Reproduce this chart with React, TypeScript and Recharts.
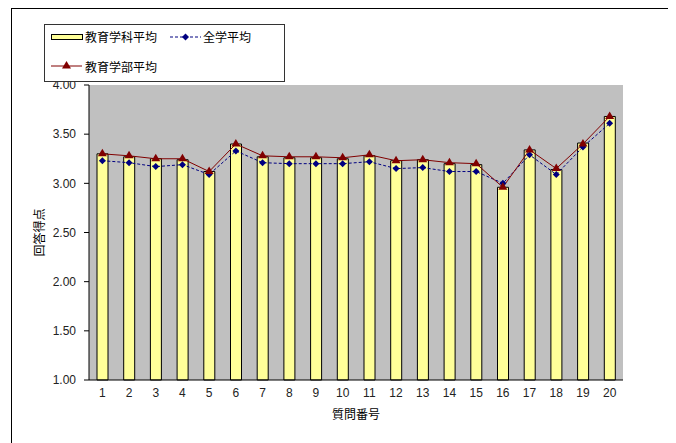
import { Bar, CartesianGrid, ComposedChart, Line, XAxis, YAxis } from "recharts";

// 質問番号 1..20
const questions = ["1", "2", "3", "4", "5", "6", "7", "8", "9", "10", "11", "12", "13", "14", "15", "16", "17", "18", "19", "20"];

// 教育学科平均 (bars)
const deptAvg = [3.3, 3.27, 3.25, 3.24, 3.12, 3.4, 3.27, 3.26, 3.26, 3.25, 3.28, 3.23, 3.24, 3.2, 3.19, 2.96, 3.34, 3.14, 3.41, 3.68];
// 全学平均 (dashed navy line)
const univAvg = [3.23, 3.21, 3.17, 3.19, 3.09, 3.33, 3.21, 3.2, 3.2, 3.2, 3.22, 3.15, 3.16, 3.12, 3.12, 3.0, 3.29, 3.09, 3.37, 3.61];
// 教育学部平均 (dark red line)
const facultyAvg = [3.3, 3.28, 3.25, 3.25, 3.12, 3.4, 3.28, 3.27, 3.27, 3.26, 3.29, 3.23, 3.24, 3.21, 3.2, 2.96, 3.34, 3.15, 3.4, 3.68];

const yTicks = [1, 1.5, 2, 2.5, 3, 3.5, 4];
// category boundaries for the small inside tick marks
const boundaryTicks = questions.slice(1).map((_, i) => i + 1.5);

const data = questions.map((q, i) => ({
  label: q,
  pos: i + 1,
  dept: deptAvg[i],
  univ: univAvg[i],
  faculty: facultyAvg[i],
}));

const NUM_FONT = "'Liberation Sans', Arial, sans-serif";
const JP_FONT = "'Noto Sans CJK JP', sans-serif";

const Diamond = ({ cx, cy }: any) => {
  if (cx == null || cy == null) return null;
  return <polygon points={`${cx},${cy - 3.5} ${cx + 3.5},${cy} ${cx},${cy + 3.5} ${cx - 3.5},${cy}`} fill="#000080" />;
};

const Triangle = ({ cx, cy }: any) => {
  if (cx == null || cy == null) return null;
  return <polygon points={`${cx},${cy - 5} ${cx + 4.5},${cy + 2.5} ${cx - 4.5},${cy + 2.5}`} fill="#800000" />;
};

function LegendBox() {
  const text = { fontFamily: JP_FONT, fontSize: 12, color: "#000", position: "absolute" as const, lineHeight: "14px" };
  return (
    <div style={{ position: "absolute", left: 36, top: 16, width: 239, height: 56, border: "1px solid #333", background: "#fff" }}>
      <svg width={239} height={56} style={{ position: "absolute", left: 0, top: 0 }}>
        <rect x={6.5} y={9.5} width={31} height={5} fill="#FFFF99" stroke="#000" />
        <line x1={125} y1={12} x2={156} y2={12} stroke="#000080" strokeDasharray="3 2" />
        <Diamond cx={140.5} cy={12} />
        <line x1={6} y1={41} x2={37} y2={41} stroke="#800000" />
        <Triangle cx={21.5} cy={41} />
      </svg>
      <span style={{ ...text, left: 40, top: 5 }}>教育学科平均</span>
      <span style={{ ...text, left: 158, top: 5 }}>全学平均</span>
      <span style={{ ...text, left: 40, top: 35 }}>教育学部平均</span>
    </div>
  );
}

export default function App() {
  return (
    <div style={{ position: "relative", width: 660, height: 435 }}>
      <div style={{ position: "absolute", left: 3, top: 0, width: 658, height: 445, border: "1px solid #000" }} />
      <ComposedChart
        width={660}
        height={435}
        data={data}
        margin={{ top: 77, right: 45, bottom: 24, left: 31 }}
        barCategoryGap={0}
      >
        <CartesianGrid horizontal={false} vertical={false} fill="#C0C0C0" xAxisId="cat" />
        {/* short tick marks pointing up into the plot at category boundaries */}
        <XAxis
          xAxisId="ticks"
          dataKey="pos"
          type="number"
          domain={[0.5, 20.5]}
          ticks={boundaryTicks}
          interval={0}
          height={1}
          mirror
          tick={false}
          tickSize={4}
          axisLine={{ stroke: "#000" }}
          tickLine={{ stroke: "#000" }}
        />
        <XAxis
          xAxisId="cat"
          dataKey="label"
          height={39}
          tickLine={false}
          tickSize={6}
          tickMargin={2}
          axisLine={false}
          tick={{ fontFamily: NUM_FONT, fontSize: 12, fill: "#222" }}
          interval={0}
          label={({ viewBox }: any) => (
            <text
              x={viewBox.x + viewBox.width / 2}
              y={405}
              textAnchor="middle"
              dominantBaseline="central"
              fontFamily={JP_FONT}
              fontSize={12}
              fill="#000"
            >
              質問番号
            </text>
          )}
        />
        <XAxis xAxisId="top" orientation="top" dataKey="label" height={0} tick={false} tickLine={false} axisLine={{ stroke: "#808080" }} />
        <YAxis
          domain={[1, 4]}
          ticks={yTicks}
          width={50}
          tickSize={5}
          tickMargin={8}
          interval={0}
          axisLine={{ stroke: "#000" }}
          tickLine={{ stroke: "#000" }}
          tickFormatter={(v: number) => v.toFixed(2)}
          tick={{ fontFamily: NUM_FONT, fontSize: 12, fill: "#222" }}
          label={({ viewBox }: any) => {
            const x = viewBox.x - 1;
            const y = viewBox.y + viewBox.height / 2;
            return (
              <text
                x={x}
                y={y}
                textAnchor="middle"
                dominantBaseline="central"
                transform={`rotate(-90, ${x}, ${y})`}
                fontFamily={JP_FONT}
                fontSize={12}
                fill="#000"
              >
                回答得点
              </text>
            );
          }}
        />
        <YAxis yAxisId="r" orientation="right" domain={[1, 4]} width={0} tick={false} tickLine={false} axisLine={{ stroke: "#808080" }} />
        <Bar xAxisId="cat" dataKey="dept" barSize={11} fill="#FFFF99" stroke="#000" strokeWidth={1} isAnimationActive={false} />
        <Line
          xAxisId="cat"
          dataKey="univ"
          stroke="#000080"
          strokeWidth={1}
          strokeDasharray="3 2"
          dot={<Diamond />}
          activeDot={false}
          isAnimationActive={false}
        />
        <Line
          xAxisId="cat"
          dataKey="faculty"
          stroke="#800000"
          strokeWidth={1}
          dot={<Triangle />}
          activeDot={false}
          isAnimationActive={false}
        />
      </ComposedChart>
      <LegendBox />
    </div>
  );
}
